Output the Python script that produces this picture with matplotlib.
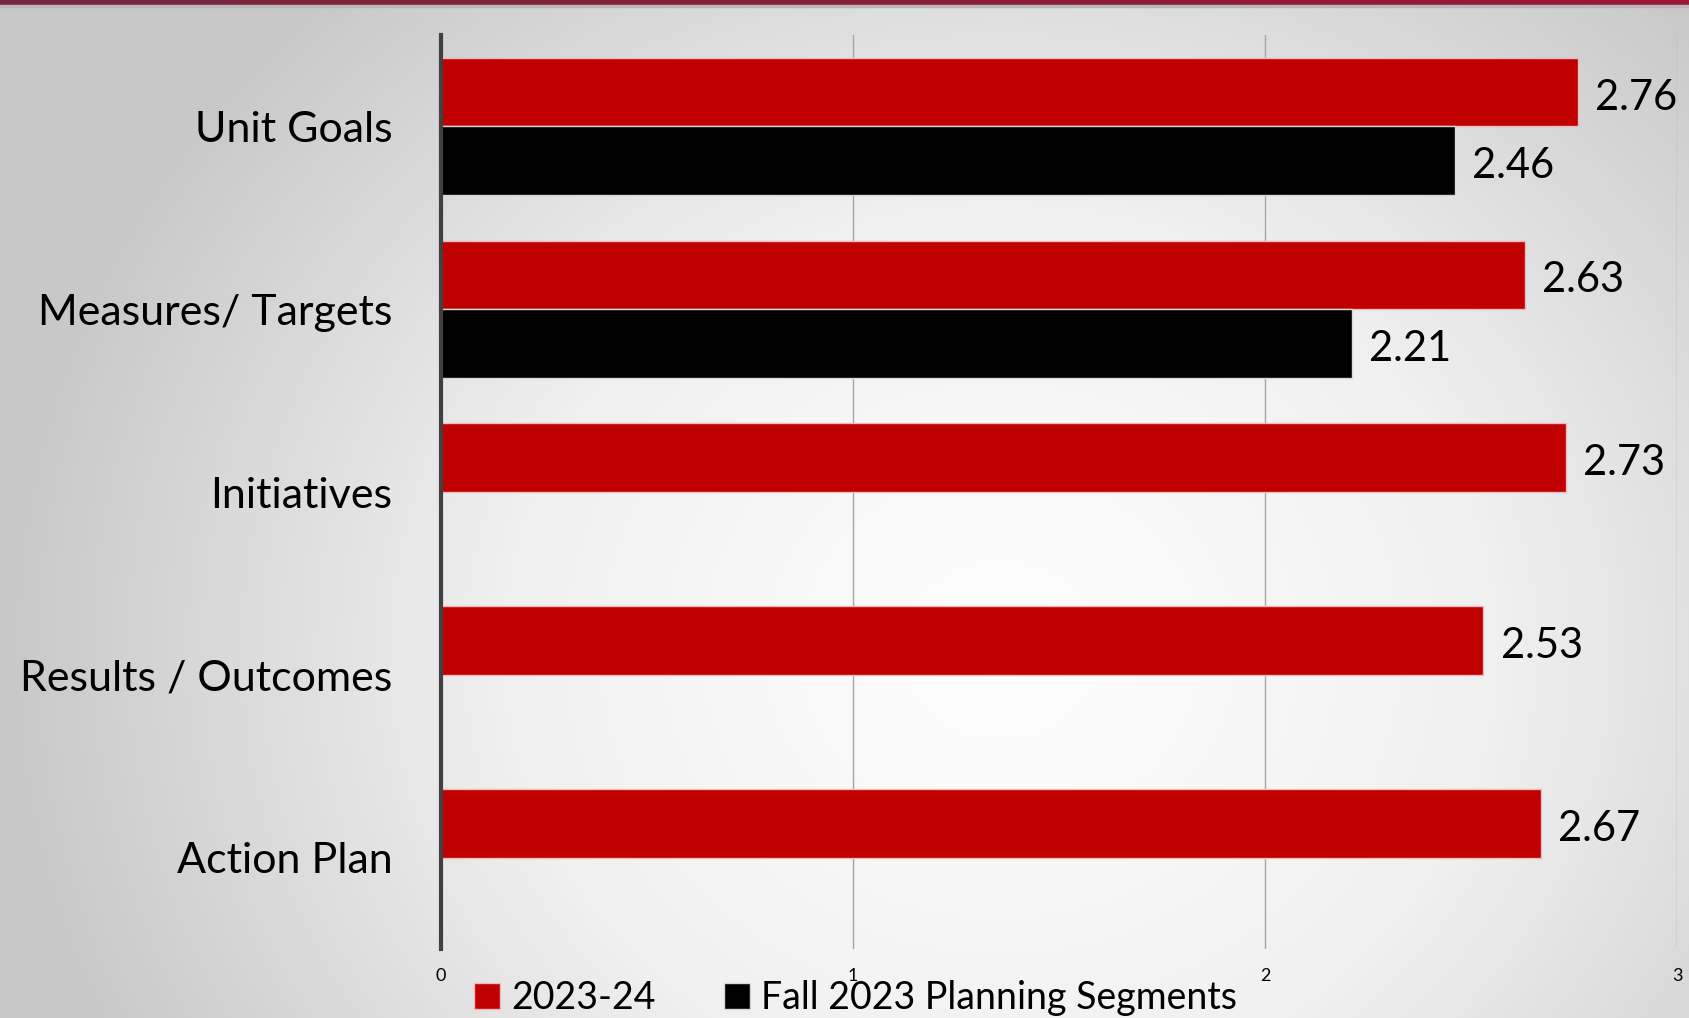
import numpy as np
import matplotlib
matplotlib.use("Agg")
import matplotlib.pyplot as plt
from matplotlib.colors import LinearSegmentedColormap

categories = ["Unit Goals", "Measures/ Targets", "Initiatives", "Results / Outcomes", "Action Plan"]
series_2023_24 = [2.76, 2.63, 2.73, 2.53, 2.67]
series_fall2023 = [2.46, 2.21, np.nan, np.nan, np.nan]
series_names = ["2023-24", "Fall 2023 Planning Segments"]
x_ticks = [0, 1, 2, 3]

plt.rcParams['font.family'] = ['Lato', 'DejaVu Sans']

W, H = 1689, 1018
fig = plt.figure(figsize=(W / 100, H / 100), dpi=100)

# background radial gradient
bg = fig.add_axes([0, 0, 1, 1], zorder=-10)
yy, xx = np.mgrid[0:H, 0:W]
cx, cy = 1000, 650
d = np.sqrt(((xx - cx) / 1000.0) ** 2 + ((yy - cy) / 900.0) ** 2)
d = np.clip(d, 0, 1)
cmap = LinearSegmentedColormap.from_list("bgc", ["#ffffff", "#f0f0f0", "#c8c8c8"])
bg.imshow(d, cmap=cmap, aspect="auto", extent=[0, W, H, 0], vmin=0, vmax=1)
# top border
top = np.linspace(0, 1, W)[None, :]
bcmap = LinearSegmentedColormap.from_list("bord", ["#76283f", "#9c1838"])
bg.imshow(top, cmap=bcmap, aspect="auto", extent=[0, W, 4.5, 0])
bg.axhspan(4.5, 6.5, color="#b8b8b8")
bg.set_xlim(0, W)
bg.set_ylim(H, 0)
bg.axis("off")

ax = fig.add_axes([441 / W, 69 / H, (1677 - 441) / W, (983 - 69) / H])
ax.set_facecolor("none")
pos = np.arange(len(categories))
h = 0.375
ax.barh(pos - h / 2, series_2023_24, height=h, color="#c00000",
        edgecolor="#f2b8b8", linewidth=1.0, label=series_names[0], zorder=3)
ax.barh(pos + h / 2, series_fall2023, height=h, color="#000000",
        edgecolor="#d8d8d8", linewidth=1.0, label=series_names[1], zorder=3)

dy = 0.03
for i, v in enumerate(series_2023_24):
    ax.text(v + 0.042, i - h / 2 + dy, f"{v:.2f}", va="center", ha="left", fontsize=30, color="black")
for i, v in enumerate(series_fall2023):
    if not np.isnan(v):
        ax.text(v + 0.042, i + h / 2 + dy, f"{v:.2f}", va="center", ha="left", fontsize=30, color="black")

ax.set_xlim(0, 3)
ax.set_ylim(len(categories) - 0.5, -0.5)
ax.set_yticks(pos)
ax.set_yticklabels(categories, fontsize=31)
ax.set_xticks(x_ticks)
ax.set_xticklabels([str(t) for t in x_ticks], fontsize=13)
ax.tick_params(axis="x", length=0, pad=14)
ax.tick_params(axis="y", length=0, pad=35)
ax.grid(axis="x", color="#a6a6a6", linewidth=1.0, zorder=0)
for s in ["top", "right", "bottom"]:
    ax.spines[s].set_visible(False)
ax.spines["left"].set_color("#404040")
ax.spines["left"].set_linewidth(3)
ax.spines["left"].set_zorder(4)

leg = fig.legend(loc="center left", bbox_to_anchor=(474 / W, 20 / H), ncol=2, frameon=False,
                 fontsize=27, handlelength=0.7, handleheight=0.7, handletextpad=0.3,
                 columnspacing=1.8, borderaxespad=0, borderpad=0)

fig.savefig("out.png", dpi=100)
